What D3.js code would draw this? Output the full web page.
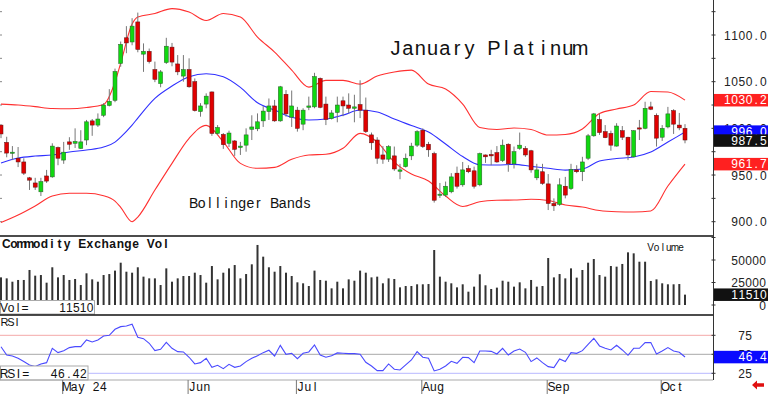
<!DOCTYPE html>
<html>
<head>
<meta charset="utf-8">
<script src="https://cdn.jsdelivr.net/npm/d3@7"></script>
<style>
    body { margin: 0; background: #fff; }
    svg { display: block; font-family: "Liberation Sans", Arial, sans-serif; }
</style>
</head>
<body>
<div id="chart"></div>
<script>
// Daily candles, mid April to early October (index 0 = first visible day)
var opens = [
    1003.5, 985, 973.5, 968, 964, 947, 941.5, 932, 949, 948,
    979.5, 966, 985.5, 984, 978.5, 987.5, 1008, 1003.5, 1014, 1024.5,
    1030, 1069.5, 1097, 1092.5, 1114, 1079.5, 1082.5, 1063, 1048, 1070.5,
    1087, 1069, 1056, 1063, 1050, 1018, 1026, 1039, 994.5, 993.5,
    984, 986.5, 979.5, 982, 999, 999.5, 1008, 1018, 1024, 1008,
    1036.5, 1012, 1019.5, 1004.5, 1022.5, 1023, 1053.5, 1026, 1010.5, 1017,
    1029.5, 1025, 1021.5, 1025.5, 1019.5, 993, 987.5, 971.5, 967, 970.5,
    954, 959, 970.5, 982, 998, 983, 973, 928.5, 928.5, 932,
    952, 939.5, 957, 954.5, 939.5, 971.5, 972, 974, 965.5, 983,
    962, 978.5, 978.5, 976, 947, 953.5, 940.5, 919.5, 918.5, 938,
    935.5, 955.5, 953.5, 968, 992, 1009.5, 996.5, 994.5, 981, 997.5,
    990.5, 969.5, 1000.5, 1000, 1023, 1014, 990.5, 1001.5, 1019, 1003.5,
    1000
];
var highs = [
    1004.5, 991, 981, 980, 968, 948, 947, 947, 955.5, 984,
    980.5, 985.5, 990.5, 1000, 998, 1009, 1010, 1016, 1027, 1042,
    1064, 1093, 1109.5, 1118, 1124, 1091, 1085.5, 1071.5, 1062.5, 1097,
    1091.5, 1078.5, 1078.5, 1075, 1053.5, 1027, 1037.5, 1039.5, 1003.5, 995,
    997.5, 987.5, 985.5, 1000, 1014, 1016, 1024, 1032, 1030.5, 1045.5,
    1041, 1040.5, 1023, 1021.5, 1034, 1059.5, 1054.5, 1034, 1019.5, 1034,
    1034, 1037.5, 1036, 1051.5, 1033, 995.5, 990.5, 981, 982, 980.5,
    962, 973, 984.5, 998, 1000, 985.5, 975, 941.5, 943, 952,
    959, 964, 960.5, 959, 974, 972, 977, 981, 988, 984,
    980.5, 995.5, 981, 977, 962, 962, 951, 925, 946.5, 948,
    962, 960.5, 969.5, 994, 1016.5, 1016, 1003.5, 997.5, 1005.5, 1002.5,
    991, 998, 1009, 1028.5, 1028.5, 1016, 1003.5, 1023, 1020.5, 1016.5,
    1004.5
];
var lows = [
    989.5, 969, 966, 958.5, 950, 934, 934, 927.5, 941.5, 947,
    960.5, 962, 977, 979, 978, 982, 992, 1001.5, 1012, 1023.5,
    1028, 1066, 1080.5, 1089, 1081.5, 1060.5, 1069.5, 1049.5, 1044, 1069,
    1066.5, 1057, 1050, 1043.5, 1018, 1012.5, 1021.5, 992, 993, 978,
    980, 970.5, 971.5, 975, 987.5, 997, 1001.5, 1009, 1007, 1007,
    1012.5, 1001.5, 996.5, 998, 1019.5, 1021.5, 1021.5, 1003.5, 1009.5, 1006.5,
    1013, 1016, 1006.5, 1011, 995, 977, 962, 962, 964, 954.5,
    945.5, 958, 966, 980, 979, 969.5, 920.5, 925.5, 926.5, 930.5,
    935.5, 937.5, 952, 935.5, 938, 963, 960.5, 963, 964, 953.5,
    957, 977, 969.5, 952.5, 944.5, 939.5, 912.5, 911.5, 917, 925,
    934, 952, 943.5, 966, 991, 993, 989.5, 976, 980.5, 987.5,
    966, 969, 987.5, 999, 1019.5, 980.5, 986.5, 1000, 994, 998,
    984
];
var closes = [
    994, 973.5, 974.5, 964, 952, 944.5, 937, 943, 943.5, 981,
    968, 974.5, 983, 986, 985.5, 1007, 1003.5, 1010, 1025, 1029,
    1061, 1090, 1091.5, 1109.5, 1084.5, 1082.5, 1071.5, 1052.5, 1060.5, 1088,
    1071, 1060.5, 1063, 1044.5, 1019, 1024, 1034.5, 994.5, 1001, 982.5,
    995, 977.5, 981, 993, 1001.5, 1007, 1018.5, 1024, 1008, 1044.5,
    1015.5, 1024, 1000, 1019.5, 1024, 1055.5, 1022.5, 1009.5, 1016.5, 1025,
    1024, 1021.5, 1023, 1019.5, 996.5, 984.5, 968, 967, 980.5, 956.5,
    955.5, 968, 981, 996.5, 980.5, 977, 923, 929.5, 938, 948,
    938, 955.5, 953.5, 938, 973, 969.5, 970.5, 964, 982, 962,
    975, 982, 971.5, 955.5, 955.5, 941, 919.5, 917, 939.5, 928.5,
    956, 953.5, 964, 992, 1015.5, 995.5, 990, 982, 1002.5, 990.5,
    971.5, 997.5, 999.5, 1021.5, 1020.5, 989.5, 1000, 1015.5, 1004.5, 1000.5,
    987.5
];
var volumes = [
    30700, 29600, 25900, 27800, 27800, 38900, 32600, 33300, 24800, 41900,
    30700, 33300, 27800, 28900, 22200, 35200, 28500, 25900, 33300, 34400,
    38200, 47000, 37000, 35900, 41900, 31500, 29600, 29600, 22200, 40700,
    25900, 29600, 32200, 32200, 35900, 33300, 24800, 43300, 28500, 35900,
    40700, 44400, 29600, 34400, 45200, 66700, 53700, 41900, 37000, 43300,
    35900, 32200, 25200, 24100, 21100, 38200, 27800, 27000, 18500, 25900,
    18500, 28500, 27000, 38200, 35900, 30700, 31500, 24100, 29600, 28900,
    19600, 21100, 21100, 23000, 23000, 23300, 61100, 31500, 25900, 24100,
    19600, 23000, 14800, 20400, 34100, 21900, 17800, 19300, 27000, 25900,
    20400, 25200, 18500, 27800, 20400, 21100, 52200, 30700, 34400, 29600,
    40700, 30400, 38900, 47000, 51100, 33300, 31500, 43300, 42600, 45600,
    58500, 57400, 48100, 48100, 26700, 28500, 24100, 23000, 23000, 23300,
    11510
];
var rsiValues = [
    60, 49.1, 47.8, 44.7, 40.4, 36, 33.8, 37.3, 39, 57.9,
    52.2, 54.8, 58.8, 60.1, 60.1, 68.9, 66.2, 68.9, 74.1, 75,
    82.9, 86.4, 87.3, 89.5, 72.4, 70.6, 64.5, 54.8, 56.6, 65.8,
    57.9, 53.5, 53.1, 46.1, 37.3, 39, 44.7, 32.9, 35.5, 31.1,
    36.8, 32.9, 34.6, 40.4, 44.7, 48.2, 52.2, 55.3, 47.8, 61.8,
    50, 51.3, 44.3, 51.3, 53.1, 62.3, 49.1, 46.1, 48.2, 51.8,
    51.3, 50.9, 50.9, 50, 39.5, 34.6, 28.5, 28.5, 37.3, 30.3,
    29.4, 36, 42.5, 53.5, 46.1, 44.7, 28.1, 30.3, 34.6, 40.8,
    38.2, 46.1, 45.6, 39, 54.4, 54.4, 53.9, 50.4, 57.9, 49.1,
    54.4, 57, 52.6, 40.4, 45.2, 39, 33.8, 32.5, 43.9, 40.4,
    52.2, 51.3, 54.8, 63.2, 71.1, 61, 57.9, 55.7, 61.8, 55.7,
    48.7, 57.9, 57.9, 65.4, 65.4, 50.4, 54.4, 58.8, 54.4, 52.6,
    46.42
];

// Bollinger band readings, taken at these candle indexes
var bandIdx = [0, 3, 6, 9, 12, 15, 18, 20, 21, 23, 24, 27, 30, 33, 36, 39, 42, 45, 48, 51, 54, 57,
    60, 63, 66, 69, 72, 75, 78, 81, 84, 87, 90, 93, 96, 99, 102, 105, 108, 111, 114, 117, 120];
var upperBand = [1026, 1025, 1023.3, 1021.2, 1021, 1022.3, 1025.5, 1049.6, 1069.9, 1111.7, 1119.2,
    1123, 1128.3, 1124.6, 1115.5, 1123, 1119.2, 1097.8, 1081.7, 1062.4, 1044.2, 1051.4,
    1051.4, 1047.4, 1056, 1060.3, 1062.4, 1047.4, 1042.1, 1026, 1000.9, 998.7, 1000.3,
    998.7, 992.8, 993.4, 999.3, 1015.9, 1020.7, 1025, 1039.4, 1038.9, 1030.2];
var middleBand = [962.8, 968.2, 970.3, 971.4, 974.6, 976.8, 980, 985.3, 990.7, 1003.5, 1011,
    1032.1, 1045.3, 1055.3, 1058.5, 1055.3, 1043.9, 1027.4, 1019.6, 1011.8, 1008.9, 1010,
    1014.2, 1019.6, 1017.5, 1010, 1003, 996, 983.2, 969.8, 961, 960.7, 961.4,
    959.3, 957.2, 955.3, 956.4, 965, 967.7, 969.3, 974.6, 985.3, 996];
var lowerBand = [899.1, 907.1, 916.8, 927.5, 930.4, 930.4, 927.8, 922.1, 915.4, 900, 905,
    933.9, 962.5, 989.3, 1003.2, 985.6, 962.5, 957.2, 958.2, 966.8, 971.4, 972.2,
    978.6, 994.6, 985.3, 963.9, 951.1, 943.6, 927.5, 916.3, 921.4, 922.9, 923.2,
    924, 922.7, 917.9, 915.7, 912, 910.7, 910.4, 911.4, 938.2, 961.7];

var monthIdx = [11, 33, 52, 74, 96, 116];
var monthLabels = ["May 24", "Jun", "Jul", "Aug", "Sep", "Oct"];
var priceTicks = [900, 950, 1000, 1050, 1100];
var volTicks = [0, 25000, 50000];
var rsiTicks = [25, 50, 75];

// layout
var width = 768, height = 395;
var plotRight = 713;
var mainTop = 0, mainBottom = 236, volBottom = 315, rsiBottom = 380;

var x = d3.scaleLinear().domain([0, 120]).range([1, 685]);
var yPrice = d3.scaleLinear().domain([900, 1100]).range([221.7, 35]);
var yVol = d3.scaleLinear().domain([0, 50000]).range([305, 260]);
var yRsi = d3.scaleLinear().domain([25, 75]).range([373.3, 335.3]);

var svg = d3.select("#chart").append("svg")
    .attr("width", width)
    .attr("height", height);

var defs = svg.append("defs");
function addClip(id, y0, y1) {
    defs.append("clipPath").attr("id", id)
        .append("rect").attr("x", 0).attr("y", y0).attr("width", plotRight).attr("height", y1 - y0);
}
addClip("clipMain", mainTop, mainBottom);
addClip("clipVol", mainBottom, volBottom);
addClip("clipRsi", volBottom, rsiBottom);

// writes text one glyph per fixed cell, like the original terminal font
function cellText(g, str, x0, cell, y, size) {
    var xs = str.split("").map(function(ch, k) { return (x0 + cell * k + cell / 2).toFixed(1); });
    return g.append("text")
        .attr("x", xs.join(" "))
        .attr("y", y)
        .attr("text-anchor", "middle")
        .attr("font-size", size)
        .attr("xml:space", "preserve")
        .text(str);
}
function cellTextRight(g, str, xRight, cell, y, size) {
    return cellText(g, str, xRight - cell * str.length, cell, y, size);
}

var candles = d3.range(closes.length).map(function(i) {
    return { i: i, o: opens[i], h: highs[i], l: lows[i], c: closes[i], v: volumes[i], r: rsiValues[i] };
});

// ---------- main price panel ----------
var main = svg.append("g").attr("clip-path", "url(#clipMain)");

// left edge ticks
main.selectAll(".ltick").data(d3.range(900, 1126, 25)).enter().append("line")
    .attr("x1", 0).attr("x2", 2)
    .attr("y1", function(d) { return yPrice(d); })
    .attr("y2", function(d) { return yPrice(d); })
    .attr("stroke", "#888").attr("stroke-width", 1);

var bandLine = function(values) {
    return d3.line()
        .x(function(d, k) { return x(bandIdx[k]); })
        .y(function(d) { return yPrice(d); })
        .curve(d3.curveMonotoneX)(values);
};
main.append("path").attr("d", bandLine(upperBand)).attr("fill", "none").attr("stroke", "#ff3030").attr("stroke-width", 1.1);
main.append("path").attr("d", bandLine(lowerBand)).attr("fill", "none").attr("stroke", "#ff3030").attr("stroke-width", 1.1);
main.append("path").attr("d", bandLine(middleBand)).attr("fill", "none").attr("stroke", "#3030ff").attr("stroke-width", 1.1);

main.selectAll(".wick").data(candles).enter().append("line")
    .attr("class", "wick")
    .attr("x1", function(d) { return x(d.i); })
    .attr("x2", function(d) { return x(d.i); })
    .attr("y1", function(d) { return yPrice(d.h); })
    .attr("y2", function(d) { return yPrice(d.l); })
    .attr("stroke", "#777").attr("stroke-width", 1);

main.selectAll(".body").data(candles).enter().append("rect")
    .attr("class", "body")
    .attr("x", function(d) { return x(d.i) - 2; })
    .attr("width", 4)
    .attr("y", function(d) { return yPrice(Math.max(d.o, d.c)); })
    .attr("height", function(d) { return Math.max(1.2, Math.abs(yPrice(d.o) - yPrice(d.c))); })
    .attr("fill", function(d) { return d.c >= d.o ? "#10d810" : "#e00000"; })
    .attr("stroke", function(d) { return d.c >= d.o ? "#2a5a2a" : "#5a1010"; })
    .attr("stroke-width", 0.5);

var title = svg.append("g").attr("fill", "#111");
cellText(title, "January Platinum", 389.5, 12.3, 55, 20);
cellText(title, "Bollinger Bands", 189.5, 8.1, 207.5, 14);

// ---------- volume panel ----------
var vol = svg.append("g").attr("clip-path", "url(#clipVol)");
vol.selectAll(".vbar").data(candles).enter().append("rect")
    .attr("x", function(d) { return x(d.i) - 1; })
    .attr("width", 2)
    .attr("y", function(d) { return yVol(d.v); })
    .attr("height", function(d) { return yVol(0) - yVol(d.v); })
    .attr("fill", "#333");

svg.append("rect").attr("x", 0.5).attr("y", 300.5).attr("width", 94).attr("height", 13.5)
    .attr("fill", "#fff").attr("stroke", "#aaa");

var volText = svg.append("g").attr("fill", "#111");
cellText(volText, "Commodity Exchange Vol", 2.5, 7.6, 247.5, 12).attr("font-weight", "bold");
cellText(volText, "Volume", 647.5, 6.1, 250.5, 10);
cellText(volText, "Vol=", 0.5, 7, 311.5, 12);
cellTextRight(volText, String(volumes[volumes.length - 1]), 93.5, 6.9, 311.5, 12);

// ---------- RSI panel ----------
var rsiG = svg.append("g").attr("clip-path", "url(#clipRsi)");
var rsiLines = [[75, "#f4a8a8"], [50, "#a8a8a8"], [25, "#b8b8ff"]];
rsiG.selectAll(".rl").data(rsiLines).enter().append("line")
    .attr("x1", 0).attr("x2", plotRight)
    .attr("y1", function(d) { return yRsi(d[0]); })
    .attr("y2", function(d) { return yRsi(d[0]); })
    .attr("stroke", function(d) { return d[1]; }).attr("stroke-width", 1);

rsiG.append("path")
    .attr("d", d3.line()
        .x(function(d) { return x(d.i); })
        .y(function(d) { return yRsi(d.r); })(candles))
    .attr("fill", "none").attr("stroke", "#4a4aff").attr("stroke-width", 1.1);

svg.append("rect").attr("x", 0.5).attr("y", 366).attr("width", 87.5).attr("height", 14)
    .attr("fill", "#fff").attr("stroke", "#aaa");

var rsiText = svg.append("g").attr("fill", "#111");
cellText(rsiText, "RSI", 1.5, 6.2, 326, 11);
cellText(rsiText, "RSI=", 0.5, 7.2, 377.5, 12);
cellTextRight(rsiText, rsiValues[rsiValues.length - 1].toFixed(2), 87, 7.3, 377.5, 12);

// ---------- frame ----------
svg.append("line").attr("x1", 0).attr("x2", plotRight).attr("y1", mainBottom).attr("y2", mainBottom)
    .attr("stroke", "#111").attr("stroke-width", 1.5);
svg.append("line").attr("x1", 0).attr("x2", plotRight).attr("y1", volBottom).attr("y2", volBottom)
    .attr("stroke", "#111").attr("stroke-width", 1.5);
svg.append("line").attr("x1", 0).attr("x2", plotRight).attr("y1", rsiBottom).attr("y2", rsiBottom)
    .attr("stroke", "#aaa").attr("stroke-width", 1);
svg.append("line").attr("x1", plotRight + 0.5).attr("x2", plotRight + 0.5).attr("y1", 0).attr("y2", rsiBottom)
    .attr("stroke", "#333").attr("stroke-width", 1);

// right axis small ticks
var rTicks = d3.range(900, 1126, 25).map(yPrice)
    .concat(d3.range(0, 75001, 25000).map(yVol))
    .concat(rsiTicks.map(yRsi));
svg.selectAll(".rtick").data(rTicks).enter().append("line")
    .attr("x1", plotRight - 1.5).attr("x2", plotRight + 2.5)
    .attr("y1", function(d) { return d; }).attr("y2", function(d) { return d; })
    .attr("stroke", "#333").attr("stroke-width", 1);

// right axis labels
var axisText = svg.append("g").attr("fill", "#222");
priceTicks.forEach(function(t) {
    cellTextRight(axisText, t.toFixed(1), 767, 7.2, yPrice(t) + 4.5, 12);
});
volTicks.forEach(function(t) {
    cellTextRight(axisText, String(t), 766, 7, yVol(t) + 4.5, 12);
});
rsiTicks.forEach(function(t) {
    cellTextRight(axisText, String(t), 752, 7, yRsi(t) + 4.5, 12);
});

// last value flags
function flag(yc, label, fill) {
    svg.append("rect").attr("x", plotRight + 1).attr("y", yc - 6.2).attr("width", width - plotRight).attr("height", 12.5)
        .attr("fill", fill);
    cellTextRight(svg.append("g").attr("fill", "#fff"), label, 767, 7.2, yc + 4.3, 12);
}
var last = closes.length - 1;
flag(yPrice(upperBand[upperBand.length - 1]), upperBand[upperBand.length - 1].toFixed(1), "#ff2020");
flag(yPrice(middleBand[middleBand.length - 1]) - 0.5, middleBand[middleBand.length - 1].toFixed(1), "#0a0aff");
flag(yPrice(closes[last]) + 0.5, closes[last].toFixed(1), "#111");
flag(yPrice(lowerBand[lowerBand.length - 1]), lowerBand[lowerBand.length - 1].toFixed(1), "#ff2020");
flag(yVol(volumes[last]), String(volumes[last]), "#111");
flag(yRsi(rsiValues[last]), rsiValues[last].toFixed(1), "#0a0aff");

// ---------- date axis ----------
var dateG = svg.append("g");
dateG.selectAll(".mt").data(monthIdx).enter().append("line")
    .attr("x1", function(d) { return x(d) - 1; })
    .attr("x2", function(d) { return x(d) - 1; })
    .attr("y1", rsiBottom).attr("y2", 394)
    .attr("stroke", "#777").attr("stroke-width", 1);
monthIdx.forEach(function(d, k) {
    cellText(dateG.append("g").attr("fill", "#111"), monthLabels[k], x(d) - 0.5, 7.3, 390.5, 12);
});

// red arrow bottom right
svg.append("path")
    .attr("d", "M752,385 L757,380.5 L757,383.3 L764,383.3 L764,386.7 L757,386.7 L757,389.5 Z")
    .attr("fill", "#e01010");
</script>
</body>
</html>
